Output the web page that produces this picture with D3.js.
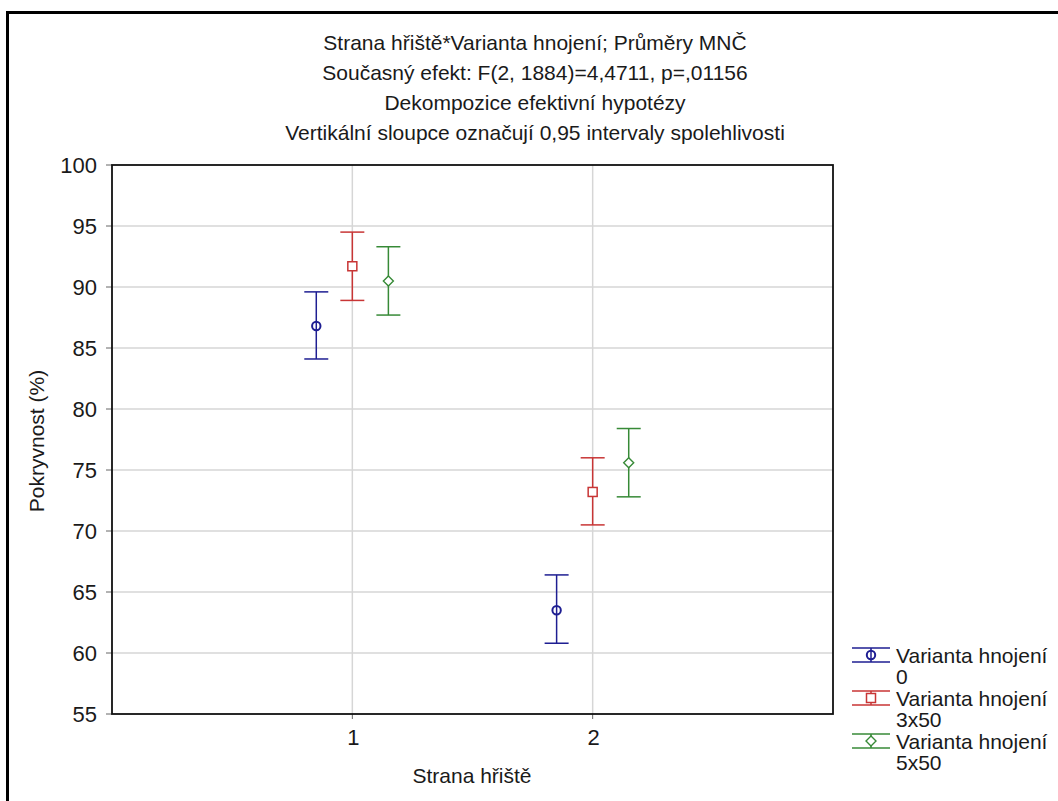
<!DOCTYPE html>
<html>
<head>
<meta charset="utf-8">
<script src="https://cdn.jsdelivr.net/npm/d3@7"></script>
<style>
  body { margin: 0; background: #fff; }
  text { font-family: "Liberation Sans", Arial, sans-serif; fill: #1a1a1a; }
</style>
</head>
<body>
<svg width="1058" height="801"></svg>
<script>
// data
var sides = [1, 2];
var seriesNames = ["Varianta hnojení 0", "Varianta hnojení 3x50", "Varianta hnojení 5x50"];
var legendLines = [["Varianta hnojení", "0"], ["Varianta hnojení", "3x50"], ["Varianta hnojení", "5x50"]];
var means = [[86.8, 63.5], [91.7, 73.2], [90.5, 75.6]];
var lower = [[84.1, 60.8], [88.9, 70.5], [87.7, 72.8]];
var upper = [[89.6, 66.4], [94.5, 76.0], [93.3, 78.4]];
var offsets = [-0.15, 0, 0.15];
var colors = ["#1e1e92", "#c83535", "#378a37"];
var shapes = ["circle", "square", "diamond"];
var yTicks = [55, 60, 65, 70, 75, 80, 85, 90, 95, 100];
var titleLines = [
  "Strana hřiště*Varianta hnojení; Průměry MNČ",
  "Současný efekt: F(2, 1884)=4,4711, p=,01156",
  "Dekompozice efektivní hypotézy",
  "Vertikální sloupce označují 0,95 intervaly spolehlivosti"
];

var FS = 21;
var svg = d3.select("svg");

function stext(x, y, str, anchor, size) {
  return svg.append("text").attr("x", x).attr("y", y).attr("text-anchor", anchor || "middle")
    .attr("font-size", size || FS).text(str);
}

// outer frame
svg.append("rect").attr("x", 7.5).attr("y", 12.5).attr("width", 1060).attr("height", 800)
  .attr("fill", "none").attr("stroke", "#000").attr("stroke-width", 3);

var pL = 112, pT = 165, pR = 833, pB = 714;
var x = d3.scaleLinear().domain([0, 3]).range([pL, pR]);
var y = d3.scaleLinear().domain([55, 100]).range([pB, pT]);

// grid
svg.append("g").selectAll("line").data(yTicks.slice(1, -1)).enter().append("line")
  .attr("x1", pL).attr("x2", pR).attr("y1", function(d) { return y(d); }).attr("y2", function(d) { return y(d); })
  .attr("stroke", "#d6d6d6").attr("stroke-width", 1.5);
svg.append("g").selectAll("line").data(sides).enter().append("line")
  .attr("y1", pT).attr("y2", pB).attr("x1", function(d) { return x(d); }).attr("x2", function(d) { return x(d); })
  .attr("stroke", "#d6d6d6").attr("stroke-width", 1.5);

// ticks
svg.append("g").selectAll("line").data(yTicks).enter().append("line")
  .attr("x1", pL - 6).attr("x2", pL).attr("y1", function(d) { return y(d); }).attr("y2", function(d) { return y(d); })
  .attr("stroke", "#666").attr("stroke-width", 1);
svg.append("g").selectAll("line").data(sides).enter().append("line")
  .attr("y1", pB).attr("y2", pB + 5).attr("x1", function(d) { return x(d); }).attr("x2", function(d) { return x(d); })
  .attr("stroke", "#666").attr("stroke-width", 1);

yTicks.forEach(function(t) { stext(97, y(t) + 8, t, "end", 22); });
sides.forEach(function(s) { stext(x(s) + 1, 745, s, "middle", 22); });

// frame
svg.append("rect").attr("x", pL).attr("y", pT).attr("width", pR - pL).attr("height", pB - pT)
  .attr("fill", "none").attr("stroke", "#111").attr("stroke-width", 1.8);

// titles
titleLines.forEach(function(t, i) { stext(535, 50 + i * 30, t, "middle"); });

// axis labels
svg.append("text").attr("transform", "translate(44,441) rotate(-90)")
  .attr("text-anchor", "middle").attr("font-size", FS).text("Pokryvnost (%)");
stext(472, 783, "Strana hřiště", "middle");

function marker(g, shape, cx, cy, color) {
  if (shape === "circle") {
    g.append("circle").attr("cx", cx).attr("cy", cy).attr("r", 4.2).attr("fill", "none").attr("stroke", color).attr("stroke-width", 2);
  } else if (shape === "square") {
    g.append("rect").attr("x", cx - 4.5).attr("y", cy - 4.5).attr("width", 9).attr("height", 9).attr("fill", "#fff").attr("stroke", color).attr("stroke-width", 1.5);
  } else {
    g.append("path").attr("d", "M" + cx + "," + (cy - 5) + "L" + (cx + 5) + "," + cy + "L" + cx + "," + (cy + 5) + "L" + (cx - 5) + "," + cy + "Z")
      .attr("fill", "#fff").attr("stroke", color).attr("stroke-width", 1.4);
  }
}

// error bars
seriesNames.forEach(function(name, si) {
  var g = svg.append("g").attr("class", "series");
  sides.forEach(function(s, j) {
    var cx = x(s + offsets[si]);
    g.append("line").attr("x1", cx).attr("x2", cx).attr("y1", y(upper[si][j])).attr("y2", y(lower[si][j]))
      .attr("stroke", colors[si]).attr("stroke-width", 1.5);
    [upper[si][j], lower[si][j]].forEach(function(v) {
      g.append("line").attr("x1", cx - 12).attr("x2", cx + 12).attr("y1", y(v)).attr("y2", y(v))
        .attr("stroke", colors[si]).attr("stroke-width", 1.5);
    });
    marker(g, shapes[si], cx, y(means[si][j]), colors[si]);
  });
});

// legend
legendLines.forEach(function(lines, i) {
  var ly = 655 + i * 43;
  var g = svg.append("g");
  var cx = 871;
  g.append("line").attr("x1", cx - 19).attr("x2", cx + 19).attr("y1", ly - 7).attr("y2", ly - 7).attr("stroke", colors[i]).attr("stroke-width", 1.5);
  g.append("line").attr("x1", cx - 19).attr("x2", cx + 19).attr("y1", ly + 7).attr("y2", ly + 7).attr("stroke", colors[i]).attr("stroke-width", 1.5);
  g.append("line").attr("x1", cx).attr("x2", cx).attr("y1", ly - 7).attr("y2", ly + 7).attr("stroke", colors[i]).attr("stroke-width", 1.5);
  marker(g, shapes[i], cx, ly, colors[i]);
  stext(896, ly + 7.5, lines[0], "start");
  stext(896, ly + 29, lines[1], "start");
});
</script>
</body>
</html>
